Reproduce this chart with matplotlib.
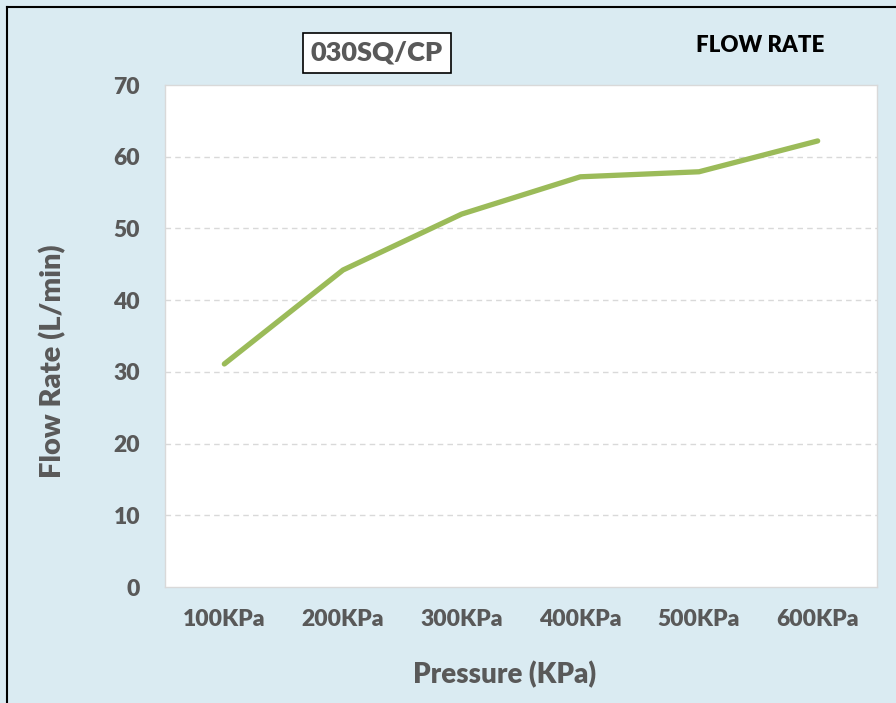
import matplotlib
matplotlib.use("Agg")
import matplotlib.pyplot as plt
from matplotlib.lines import Line2D

pressures = ["100KPa", "200KPa", "300KPa", "400KPa", "500KPa", "600KPa"]
flow_rate = [31.1, 44.2, 52.0, 57.2, 57.9, 62.2]
y_ticks = [0, 10, 20, 30, 40, 50, 60, 70]

BG = "#DAEBF2"
TXT = "#595959"
FONT = ["Lato", "DejaVu Sans"]

fig = plt.figure(figsize=(8.96, 7.03), dpi=100, facecolor=BG)
ax = fig.add_axes([165 / 896, 1 - 587 / 703, (877 - 165) / 896, (587 - 85) / 703])
ax.set_facecolor("white")

ax.plot(range(len(pressures)), flow_rate, color="#9BBB59", lw=3.8, solid_capstyle="round")

ax.set_xlim(-0.5, len(pressures) - 0.5)
ax.set_ylim(0, 70)
ax.set_yticks(y_ticks)
ax.set_xticks(range(len(pressures)))
ax.set_xticklabels(pressures)
for y in y_ticks[1:-1]:
    ax.axhline(y, color="#D9D9D9", lw=1, ls=(0, (4, 3)), zorder=0)

ax.tick_params(length=0)
for lab in ax.get_xticklabels() + ax.get_yticklabels():
    lab.set_fontfamily(FONT)
    lab.set_fontweight("heavy")
    lab.set_fontsize(16.5)
    lab.set_color(TXT)
ax.tick_params(axis="x", pad=16)
ax.tick_params(axis="y", pad=18)

for s in ax.spines.values():
    s.set_color("#D9D9D9")
    s.set_linewidth(1)

ax.set_xlabel("Pressure (KPa)", fontsize=20, fontweight="heavy", color=TXT, family=FONT, va="center")
ax.set_ylabel("Flow Rate (L/min)", fontsize=21, fontweight="heavy", color=TXT, family=FONT, va="center")
ax.xaxis.set_label_coords((505 - 165) / 712, (587 - 675) / 502)
ax.yaxis.set_label_coords((53 - 165) / 712, (587 - 361) / 502)

fig.text(377 / 896, 1 - 53 / 703, "030SQ/CP", ha="center", va="center", fontsize=19.5,
         fontweight="heavy", color=TXT, family=FONT,
         bbox=dict(boxstyle="square,pad=0.3", facecolor="white", edgecolor="black", lw=1.2))
fig.text(760 / 896, 1 - 46 / 703, "FLOW RATE", ha="center", va="center", fontsize=16,
         fontweight="heavy", color="black", family=FONT)

# outer frame (left and top edges visible)
fig.add_artist(Line2D([7 / 896, 7 / 896], [0, 1 - 7 / 703], transform=fig.transFigure, color="black", lw=1.5))
fig.add_artist(Line2D([7 / 896, 1], [1 - 7 / 703, 1 - 7 / 703], transform=fig.transFigure, color="black", lw=1.5))

fig.savefig("out.png", dpi=100, facecolor=BG)
